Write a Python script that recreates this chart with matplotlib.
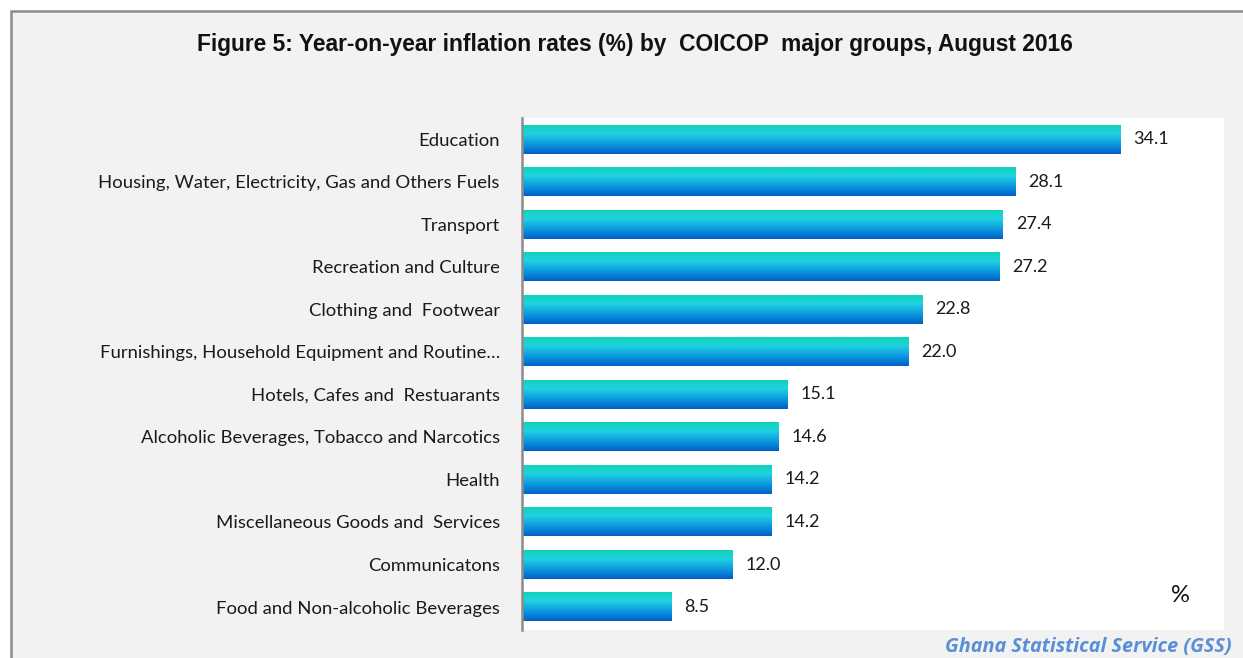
import numpy as np
import matplotlib
matplotlib.use("Agg")
import matplotlib.pyplot as plt
from matplotlib.patches import Rectangle

categories = [
    "Education",
    "Housing, Water, Electricity, Gas and Others Fuels",
    "Transport",
    "Recreation and Culture",
    "Clothing and  Footwear",
    "Furnishings, Household Equipment and Routine\u2026",
    "Hotels, Cafes and  Restuarants",
    "Alcoholic Beverages, Tobacco and Narcotics",
    "Health",
    "Miscellaneous Goods and  Services",
    "Communicatons",
    "Food and Non-alcoholic Beverages",
]
values = [34.1, 28.1, 27.4, 27.2, 22.8, 22.0, 15.1, 14.6, 14.2, 14.2, 12.0, 8.5]

W, H = 1243, 658
fig = plt.figure(figsize=(W / 100, H / 100), dpi=100)
fig.patch.set_facecolor("white")

# grey chart frame (behind the axes)
fig.patches.append(Rectangle((11 / W, -0.05), 1.1, 1.05 - 11 / H,
                             transform=fig.transFigure, facecolor="#f2f2f2",
                             edgecolor="#8c8c8c", linewidth=1.8, zorder=-1))

ax = fig.add_axes([522 / W, 28 / H, 702 / W, 512 / H])
ax.set_facecolor("white")

# vertical gradient: teal on top to blue at bottom
stops = np.array([0.0, 0.3, 0.65, 1.0])
cols = np.array([[0.06, 0.83, 0.72],
                 [0.13, 0.82, 0.88],
                 [0.05, 0.60, 0.88],
                 [0.00, 0.38, 0.78]])
t = np.linspace(0, 1, 64)
grad = np.stack([np.interp(t, stops, cols[:, k]) for k in range(3)], axis=1)
grad = grad[:, None, :]

n = len(values)
ypos = np.arange(n)[::-1]
h = 0.68
for y, v in zip(ypos, values):
    ax.imshow(grad, extent=(0, v, y - h / 2, y + h / 2), origin="upper",
              aspect="auto", interpolation="bilinear", zorder=2)
    ax.text(v + 0.75, y, f"{v:.1f}", va="center", ha="left", fontsize=13,
            family="Lato", color="#1a1a1a")

ax.set_xlim(0, 40)
ax.set_ylim(-0.54, n - 0.5)
ax.set_yticks(ypos)
ax.set_yticklabels(categories, fontsize=13.3, family="Lato", color="#1a1a1a")
ax.tick_params(axis="y", length=0, pad=16)
ax.set_xticks([])
for s in ["top", "right", "bottom"]:
    ax.spines[s].set_visible(False)
ax.spines["left"].set_color("#8c8c8c")
ax.spines["left"].set_linewidth(1.8)

fig.text(635 / W, 1 - 44 / H,
         "Figure 5: Year-on-year inflation rates (%) by  COICOP  major groups, August 2016",
         ha="center", va="center", fontsize=16.4, fontweight="bold",
         family="Liberation Sans", color="#111111")
fig.text(1180 / W, 1 - 596 / H, "%", ha="center", va="center", fontsize=17,
         family="Lato", color="#111111")
fig.text(1232 / W, 1 - 647 / H, "Ghana Statistical Service (GSS)", ha="right",
         va="center", fontsize=14.3, fontstyle="italic", fontweight="bold",
         family="Open Sans", color="#5a8fd6")

fig.savefig("out.png", dpi=100)
